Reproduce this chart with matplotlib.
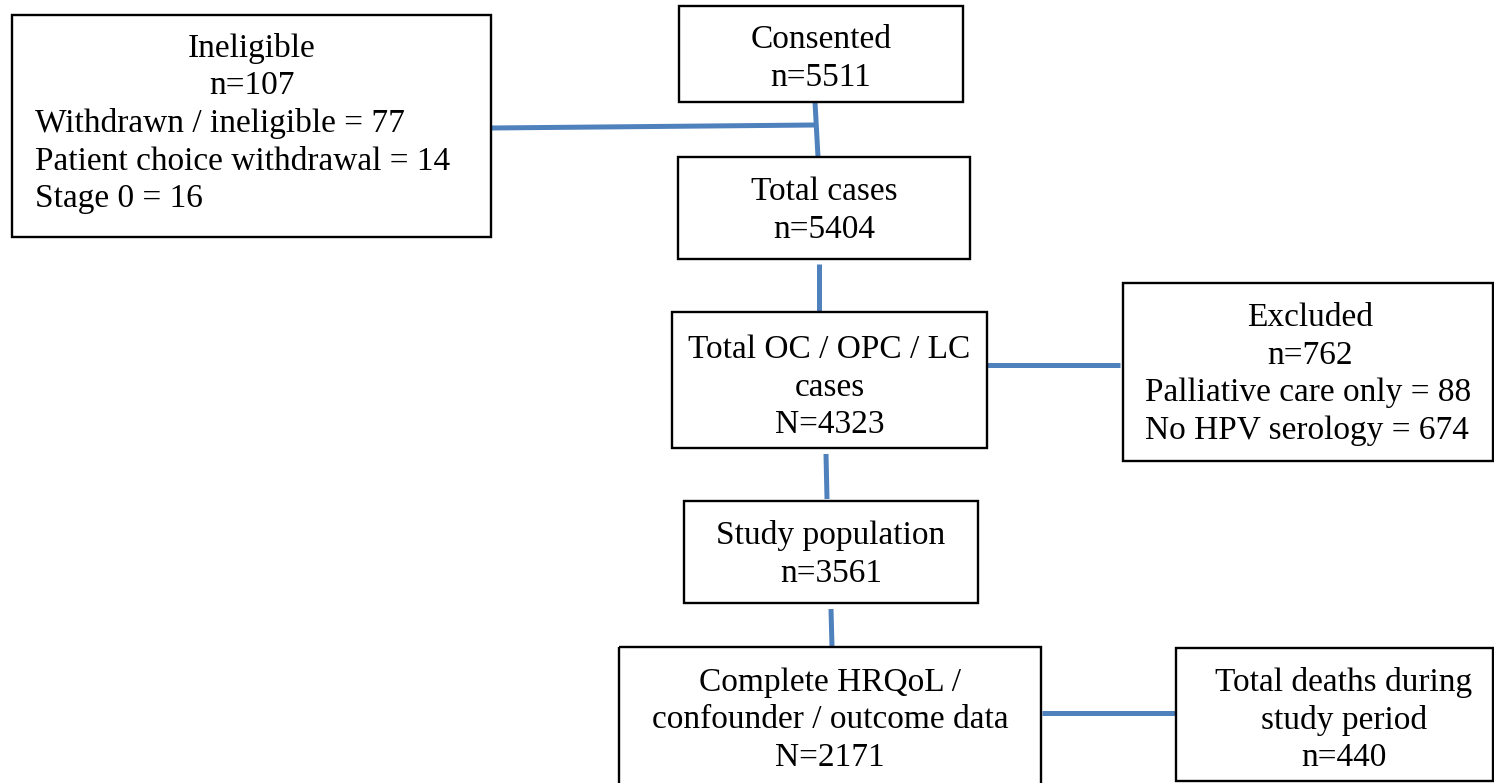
import matplotlib.pyplot as plt
from matplotlib.patches import Rectangle

# flow stages (main column)
stage_labels = ["Consented", "Total cases", "Total OC / OPC / LC\ncases",
                "Study population", "Complete HRQoL /\nconfounder / outcome data"]
stage_counts = [5511, 5404, 4323, 3561, 2171]
stage_prefix = ["n", "n", "N", "n", "N"]

# side boxes
ineligible_n = 107
ineligible_reasons = ["Withdrawn / ineligible", "Patient choice withdrawal", "Stage 0"]
ineligible_counts = [77, 14, 16]
excluded_n = 762
excluded_reasons = ["Palliative care only", "No HPV serology"]
excluded_counts = [88, 674]
deaths_label = "Total deaths during\nstudy period"
deaths_n = 440

# layout in pixels (x0, y0, x1, y1), y down
stage_boxes = [(679, 6, 963, 102), (678, 157, 970, 259), (672, 312, 987, 448),
               (684, 501, 978, 603), (619, 647, 1041, 790)]
stage_base = [48, 200, 358, 544, 691]
ineligible_box = (12, 15, 491, 237)
excluded_box = (1123, 283, 1493, 461)
deaths_box = (1176, 648, 1493, 781)

LS = 37.5
FONT = dict(family="Liberation Serif", fontsize=24, color="black")
BLUE = "#4f81bd"

fig = plt.figure(figsize=(14.94, 7.83), dpi=100)
ax = fig.add_axes([0, 0, 1, 1])
ax.set_xlim(0, 1494)
ax.set_ylim(783, 0)
ax.axis("off")


def box(b):
    x0, y0, x1, y1 = b
    ax.add_patch(Rectangle((x0, y0), x1 - x0, y1 - y0, fill=False,
                           ec="black", lw=1.7, zorder=3))


def line(xs, ys):
    ax.plot(xs, ys, color=BLUE, lw=3.6, solid_capstyle="butt", zorder=2)


# connectors
line([815, 818], [102, 157])
line([491, 815], [128, 125])
line([819, 819], [264, 312])
line([826, 827], [454, 499])
line([831, 832], [609, 647])
line([987, 1120], [365, 365])
line([1042, 1176], [713, 713])

# main column boxes
for b, lab, n, p, yb in zip(stage_boxes, stage_labels, stage_counts, stage_prefix, stage_base):
    box(b)
    xc = (b[0] + b[2]) / 2
    rows = lab.split("\n") + [f"{p}={n}"]
    for i, r in enumerate(rows):
        ax.text(xc, yb + i * LS, r, ha="center", va="baseline", **FONT)

# ineligible
box(ineligible_box)
xc = (ineligible_box[0] + ineligible_box[2]) / 2
ax.text(xc, 57, "Ineligible", ha="center", va="baseline", **FONT)
ax.text(xc, 57 + LS, f"n={ineligible_n}", ha="center", va="baseline", **FONT)
for i, (r, c) in enumerate(zip(ineligible_reasons, ineligible_counts)):
    ax.text(35, 57 + (i + 2) * LS, f"{r} = {c}", ha="left", va="baseline", **FONT)

# excluded
box(excluded_box)
xc = 1310
ax.text(xc, 326, "Excluded", ha="center", va="baseline", **FONT)
ax.text(xc, 326 + LS, f"n={excluded_n}", ha="center", va="baseline", **FONT)
for i, (r, c) in enumerate(zip(excluded_reasons, excluded_counts)):
    ax.text(1145, 326 + (i + 2) * LS, f"{r} = {c}", ha="left", va="baseline", **FONT)

# deaths
box(deaths_box)
xc = 1344
for i, r in enumerate(deaths_label.split("\n") + [f"n={deaths_n}"]):
    ax.text(xc, 691 + i * LS, r, ha="center", va="baseline", **FONT)

fig.savefig("out.png", dpi=100)
